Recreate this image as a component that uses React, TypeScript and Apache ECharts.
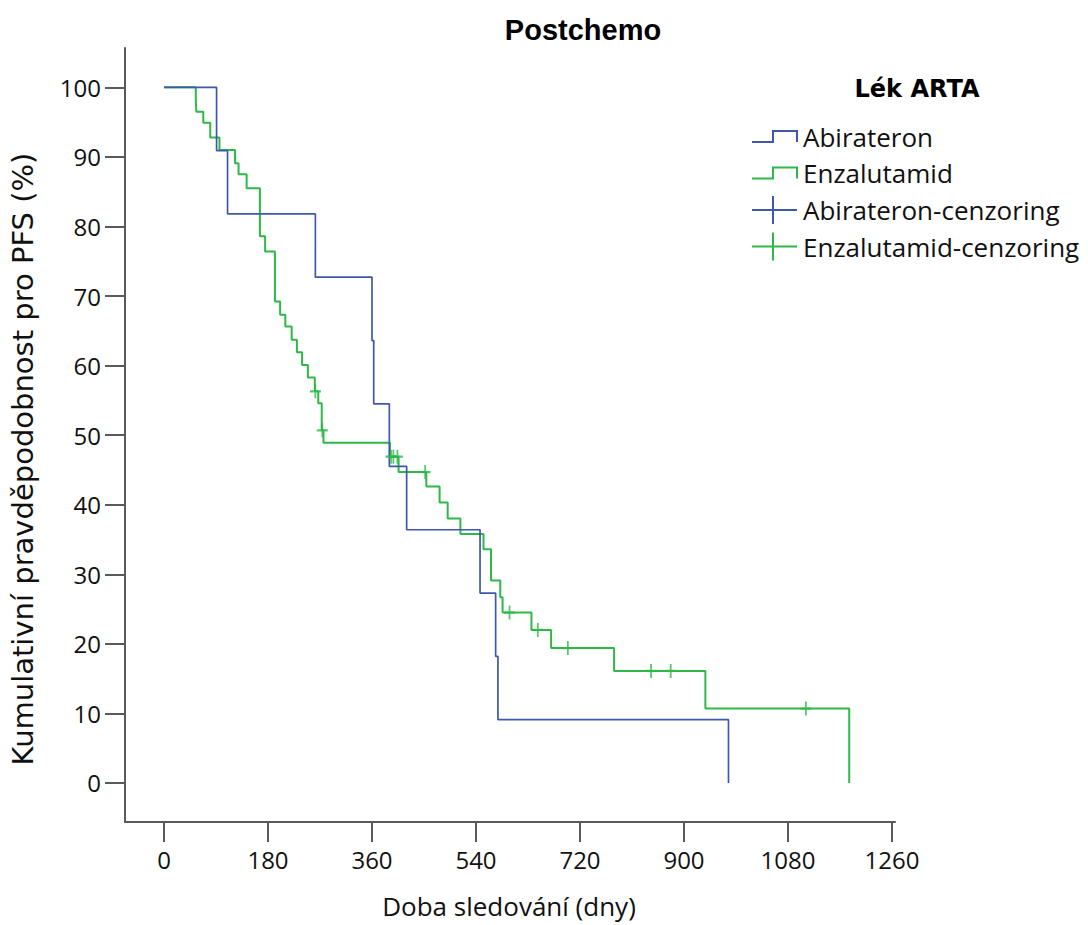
import React, { useEffect, useRef } from "react";
import * as echarts from "echarts";

// Tick labels
const xTicks = [0, 180, 360, 540, 720, 900, 1080, 1260];
const yTicks = [0, 10, 20, 30, 40, 50, 60, 70, 80, 90, 100];

// Kaplan–Meier steps: [day, cumulative PFS %] (value after the event at that day)
const abirateronSteps: [number, number][] = [
  [0, 100], [91, 90.9], [110, 81.8], [262, 72.7], [360, 63.6], [363, 54.5],
  [390, 45.5], [420, 36.4], [547, 27.3], [574, 18.2], [578, 9.1], [977, 0],
];

const enzalutamidSteps: [number, number][] = [
  [0, 100], [55, 98.2], [56, 96.5], [68, 94.9], [80, 92.8], [96, 91.0],
  [123, 89.1], [129, 87.5], [143, 85.5], [166, 78.6], [175, 76.4], [192, 69.2],
  [201, 67.3], [210, 65.6], [221, 63.7], [230, 61.9], [239, 60.1], [249, 58.3],
  [261, 56.3], [267, 54.6], [273, 50.7], [276, 48.9], [391, 46.9], [406, 44.7],
  [454, 42.6], [477, 40.3], [491, 38.0], [513, 35.8], [553, 33.6], [566, 29.1],
  [582, 26.7], [586, 24.5], [636, 22.0], [670, 19.4], [779, 16.1], [937, 10.7],
  [1186, 0],
];

// Censored observations
const abirateronCensor: [number, number][] = [];
const enzalutamidCensor: [number, number][] = [
  [262, 56.3], [274, 50.7], [393, 46.9], [397, 46.9], [404, 46.9], [452, 44.7],
  [598, 24.5], [647, 22.0], [699, 19.4], [843, 16.1], [877, 16.1], [1111, 10.7],
];

const legendTitle = "Lék ARTA";
const legendLabels = ["Abirateron", "Enzalutamid", "Abirateron-cenzoring", "Enzalutamid-cenzoring"];

const BLUE = "#3E58AC";
const GREEN = "#2EB848";
const AXIS = "#5a5a5a";
const TEXT_FONT = "Open Sans";

export default function App() {
  const ref = useRef<HTMLDivElement>(null);

  useEffect(() => {
    if (!ref.current) return;
    const chart = echarts.init(ref.current, null, { renderer: "svg" });
    const plusSymbol = "path://M0,-1L0,1M-1,0L1,0";

    const rowY = [136.5, 173, 210, 246.5];
    const legendGraphics: any[] = [];
    [BLUE, GREEN].forEach((c, i) => {
      const y = rowY[i];
      legendGraphics.push({
        type: "polyline",
        shape: { points: [[752, y + 5.5], [773, y + 5.5], [773, y - 5.5], [797, y - 5.5], [797, y + 5.5]] },
        style: { stroke: c, lineWidth: 2, fill: "none" },
      });
    });
    [BLUE, GREEN].forEach((c, i) => {
      const y = rowY[i + 2];
      legendGraphics.push({ type: "line", shape: { x1: 752, y1: y, x2: 797, y2: y }, style: { stroke: c, lineWidth: 2 } });
      legendGraphics.push({ type: "line", shape: { x1: 773, y1: y - 14, x2: 773, y2: y + 14 }, style: { stroke: c, lineWidth: 2 } });
    });
    legendLabels.forEach((t, i) => {
      legendGraphics.push({
        type: "text", x: 803, y: rowY[i],
        style: { text: t, font: `26px "${TEXT_FONT}"`, fill: "#111", align: "left", verticalAlign: "middle" },
      });
    });

    chart.setOption({
      animation: false,
      backgroundColor: "#fff",
      grid: { left: 125, right: 193, top: 48, bottom: 103 },
      xAxis: {
        type: "value",
        min: -67.5,
        max: 1265.2,
        axisLine: { show: true, onZero: false, lineStyle: { color: AXIS, width: 2 } },
        axisTick: { show: true, length: 20, customValues: xTicks, lineStyle: { color: AXIS, width: 2 } },
        axisLabel: {
          customValues: xTicks, margin: 25, fontSize: 24, fontFamily: TEXT_FONT, color: "#111",
          formatter: (v: number) => String(v),
        },
        splitLine: { show: false },
      },
      yAxis: {
        type: "value",
        min: -5.61,
        max: 105.65,
        axisLine: { show: true, onZero: false, lineStyle: { color: AXIS, width: 2 } },
        axisTick: { show: true, length: 20, customValues: yTicks, lineStyle: { color: AXIS, width: 2 } },
        axisLabel: {
          customValues: yTicks, margin: 24, fontSize: 24, fontFamily: TEXT_FONT, color: "#111",
          formatter: (v: number) => String(v),
        },
        splitLine: { show: false },
      },
      graphic: [
        {
          type: "text", x: 583, y: 30,
          style: { text: "Postchemo", font: 'bold 29px "Liberation Sans"', fill: "#000", align: "center", verticalAlign: "middle" },
        },
        {
          type: "text", x: 917, y: 89,
          style: { text: legendTitle, font: 'bold 24px "DejaVu Sans"', fill: "#000", align: "center", verticalAlign: "middle" },
        },
        {
          type: "text", x: 509, y: 906,
          style: { text: "Doba sledování (dny)", font: `26px "${TEXT_FONT}"`, fill: "#111", align: "center", verticalAlign: "middle" },
        },
        {
          type: "text", x: 23, y: 459, rotation: Math.PI / 2,
          style: { text: "Kumulativní pravděpodobnost pro PFS (%)", font: '29px "DejaVu Sans"', fill: "#111", align: "center", verticalAlign: "middle" },
        },
        ...legendGraphics,
      ],
      series: [
        {
          name: "Abirateron", type: "line", step: "end", data: abirateronSteps,
          showSymbol: false, symbol: "none", lineStyle: { color: BLUE, width: 1.7 }, z: 3,
        },
        {
          name: "Enzalutamid", type: "line", step: "end", data: enzalutamidSteps,
          showSymbol: false, symbol: "none", lineStyle: { color: GREEN, width: 2 }, z: 2,
        },
        {
          name: "Abirateron-cenzoring", type: "scatter", data: abirateronCensor,
          symbol: plusSymbol, symbolSize: [11, 14],
          itemStyle: { color: "none", borderColor: BLUE, borderWidth: 2 }, z: 4,
        },
        {
          name: "Enzalutamid-cenzoring", type: "scatter", data: enzalutamidCensor,
          symbol: plusSymbol, symbolSize: [11, 14],
          itemStyle: { color: "none", borderColor: GREEN, borderWidth: 2 }, z: 4,
        },
      ],
    });
    return () => chart.dispose();
  }, []);

  return <div ref={ref} style={{ width: 1088, height: 925, position: "absolute", left: 0, top: 0 }} />;
}
